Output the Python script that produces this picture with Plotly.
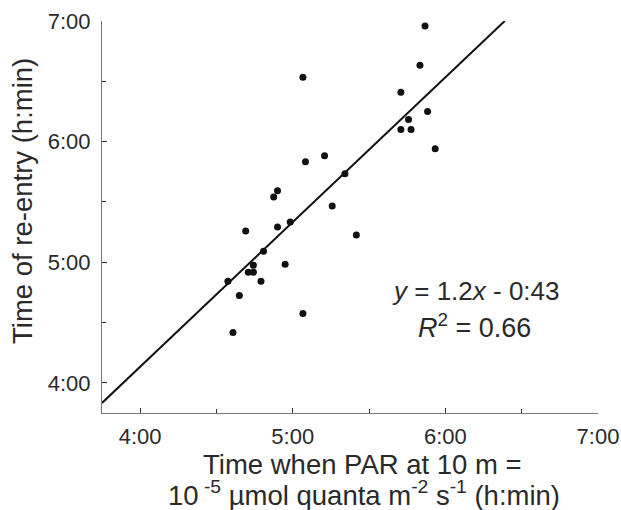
import plotly.graph_objects as go

# Data (minutes after midnight)
par_time_min = [352, 350, 304, 342.5, 353, 345.5, 342.5, 346.5, 356, 312.5,
                305, 320.5, 294, 292.5, 315.5, 299, 294, 281.5, 325, 288.5,
                284.5, 297, 284.5, 282.5, 274.5, 287.5, 279, 304, 276.5]
reentry_min = [417.5, 398, 392, 384.5, 375, 371, 366, 366, 356.5, 353,
               350, 344, 335.5, 332.5, 328, 320, 317.5, 315.5, 313.5, 305.5,
               298.5, 299, 295, 295, 290.5, 290.5, 283.5, 274.5, 265]

fit_slope = 1.2
fit_intercept = -40  # as drawn in the picture (minutes)

axis_min = 225
axis_max = 420
tick_vals = [240, 300, 360, 420]
tick_text = ["4:00", "5:00", "6:00", "7:00"]
minor_vals = [270, 330, 390]

# regression line from axis start to where it leaves the top of the plot
x_end = (axis_max - fit_intercept) / fit_slope
line_x = [axis_min, x_end]
line_y = [fit_slope * v + fit_intercept for v in line_x]

FONT = "Liberation Sans, Arial, sans-serif"
TXT = "#2a2a2a"

fig = go.Figure()
fig.add_trace(go.Scatter(x=line_x, y=line_y, mode="lines",
                         line=dict(color="#111111", width=2), hoverinfo="skip",
                         showlegend=False, cliponaxis=True))
fig.add_trace(go.Scatter(x=par_time_min, y=reentry_min, mode="markers",
                         marker=dict(color="#111111", size=7), showlegend=False,
                         cliponaxis=False))

axis_common = dict(
    range=[axis_min, axis_max], tickmode="array", tickvals=tick_vals, ticktext=tick_text,
    ticks="inside", ticklen=5, tickwidth=1, tickcolor="#333333",
    showline=True, linecolor="#777777", linewidth=1, showgrid=False, zeroline=False,
    automargin=False, ticklabeloverflow="allow",
    tickfont=dict(family=FONT, size=22, color=TXT),
    minor=dict(tickmode="array", tickvals=minor_vals, ticks="inside", ticklen=4,
               tickcolor="#333333", showgrid=False),
)

fig.update_xaxes(**axis_common, ticklabelstandoff=4)
fig.update_yaxes(**axis_common, ticklabelstandoff=6)

W, H = 621, 510
ml, mr, mt, mb = 102, 23, 21, 97
pw = W - ml - mr
ph = H - mt - mb

def px(xs):
    return (xs - ml) / pw

def py(ys):
    return (H - mb - ys) / ph

annotations = [
    dict(text="Time of re-entry (h:min)", x=px(23), y=py(201), xref="paper", yref="paper",
         textangle=-90, showarrow=False, xanchor="center", yanchor="middle",
         font=dict(family=FONT, size=27.5, color=TXT)),
    dict(text="Time when PAR at 10 m =",
         x=px(362), y=py(464), xref="paper", yref="paper", showarrow=False,
         xanchor="center", yanchor="middle",
         font=dict(family=FONT, size=27.5, color=TXT)),
    dict(text="10<sup> -5</sup> µmol quanta m<sup>-2</sup> s<sup>-1</sup> (h:min)",
         x=px(364), y=py(493), xref="paper", yref="paper", showarrow=False,
         xanchor="center", yanchor="middle",
         font=dict(family=FONT, size=27.5, color=TXT)),
    dict(text="<i>y</i> = 1.2<i>x</i> - 0:43", x=px(476), y=py(291), xref="paper", yref="paper",
         showarrow=False, xanchor="center", yanchor="middle",
         font=dict(family=FONT, size=26, color=TXT)),
    dict(text="<i>R</i><sup>2</sup> = 0.66", x=px(474), y=py(326), xref="paper", yref="paper",
         showarrow=False, xanchor="center", yanchor="middle",
         font=dict(family=FONT, size=27, color=TXT)),
]

fig.update_layout(
    width=W, height=H, margin=dict(l=ml, r=mr, t=mt, b=mb, pad=0, autoexpand=False),
    paper_bgcolor="white", plot_bgcolor="white",
    annotations=annotations, showlegend=False,
)

fig.write_html("out.html", config={"displayModeBar": False},
               post_script="document.body.style.margin='0';document.body.style.overflow='hidden';")
